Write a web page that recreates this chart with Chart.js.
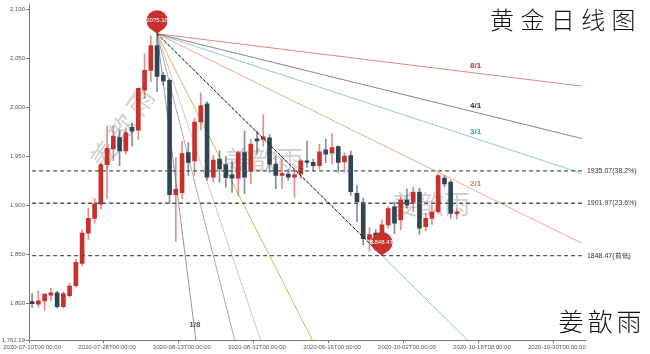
<!DOCTYPE html>
<html>
<head>
<meta charset="utf-8">
<script src="https://cdn.jsdelivr.net/npm/chart.js@4/dist/chart.umd.min.js"></script>
<style>
  body { margin: 0; background: #fff; }
  #box { width: 650px; height: 354px; }
</style>
</head>
<body>
<div id="box"><canvas id="grafico" width="650" height="354"></canvas></div>
<script>
// datas: pregões até 14/10, depois dias corridos (extensão do leque)
const datas = [
  '2020-07-10','2020-07-13','2020-07-14','2020-07-15','2020-07-16','2020-07-17','2020-07-20','2020-07-21',
  '2020-07-22','2020-07-23','2020-07-24','2020-07-27','2020-07-28','2020-07-29','2020-07-30','2020-07-31',
  '2020-08-03','2020-08-04','2020-08-05','2020-08-06','2020-08-07','2020-08-10','2020-08-11','2020-08-12',
  '2020-08-13','2020-08-14','2020-08-17','2020-08-18','2020-08-19','2020-08-20','2020-08-21','2020-08-24',
  '2020-08-25','2020-08-26','2020-08-27','2020-08-28','2020-08-31','2020-09-01','2020-09-02','2020-09-03',
  '2020-09-04','2020-09-07','2020-09-08','2020-09-09','2020-09-10','2020-09-11','2020-09-14','2020-09-15',
  '2020-09-16','2020-09-17','2020-09-18','2020-09-21','2020-09-22','2020-09-23','2020-09-24','2020-09-25',
  '2020-09-28','2020-09-29','2020-09-30','2020-10-01','2020-10-02','2020-10-05','2020-10-06','2020-10-07',
  '2020-10-08','2020-10-09','2020-10-12','2020-10-13','2020-10-14','2020-10-15','2020-10-16','2020-10-17',
  '2020-10-18','2020-10-19','2020-10-20','2020-10-21','2020-10-22','2020-10-23','2020-10-24','2020-10-25',
  '2020-10-26','2020-10-27','2020-10-28','2020-10-29','2020-10-30','2020-10-31','2020-11-01','2020-11-02',
  '2020-11-03'
];

const abertura = [1801.5,1798.8,1802.2,1808.0,1810.3,1796.2,1807.5,1817.6,1840.5,1871.4,1886.5,1901.0,1941.4,1957.5,1969.0,1955.4,
  1979.6,1976.6,2017.6,2037.8,2063.2,2032.7,2027.7,1910.7,1912.7,1953.8,1945.3,1985.0,2003.7,1928.7,1947.2,1941.5,
  1931.0,1927.5,1953.8,1934.7,1967.9,1967.2,1968.9,1942.0,1930.3,1931.9,1928.6,1931.9,1945.3,1943.7,1940.3,1956.5,
  1953.2,1960.0,1944.3,1950.7,1912.0,1902.6,1865.0,1871.4,1865.0,1879.9,1898.3,1885.0,1905.1,1903.0,1913.4,1878.1,
  1886.5,1893.3,1927.6,1923.5,1891.3];
const maximas = [1809.9,1812.6,1809.5,1815.3,1812.0,1811.5,1820.2,1844.5,1875.0,1897.0,1907.0,1943.0,1980.7,1980.7,1977.0,1979.0,
  1984.0,2019.5,2054.6,2073.0,2075.18,2036.0,2029.4,1948.7,1965.6,1963.9,1989.0,2014.8,2006.0,1950.6,1955.5,1950.0,
  1945.0,1955.5,1975.7,1967.2,1975.7,1992.4,1972.2,1950.4,1947.2,1936.9,1937.0,1947.2,1965.6,1947.0,1962.1,1967.2,
  1973.2,1960.7,1953.8,1955.5,1920.2,1907.0,1877.0,1875.0,1885.0,1898.5,1903.3,1908.4,1916.8,1918.5,1917.5,1891.6,
  1900.0,1932.0,1930.3,1925.2,1896.0];
const minimas = [1795.2,1795.8,1792.4,1801.8,1795.0,1795.0,1805.9,1816.0,1838.0,1864.5,1881.5,1896.0,1906.7,1945.4,1940.4,1952.0,
  1960.5,1967.2,2009.2,2026.0,2015.9,2022.7,1901.8,1862.9,1906.7,1930.3,1930.3,1977.0,1925.4,1923.7,1923.5,1918.5,
  1913.0,1910.0,1911.7,1921.8,1952.0,1960.4,1933.6,1916.8,1916.8,1925.2,1908.0,1927.0,1938.6,1935.0,1936.9,1943.7,
  1942.0,1933.6,1933.6,1910.0,1883.2,1859.0,1853.0,1858.0,1848.47,1876.5,1870.9,1875.0,1896.6,1893.3,1870.0,1873.3,
  1880.0,1891.6,1918.5,1886.5,1886.0];
const fechamento = [1799.2,1802.2,1809.0,1810.4,1796.2,1809.6,1817.3,1841.5,1871.4,1886.5,1901.4,1941.4,1958.1,1970.5,1955.4,1973.9,
  1975.6,2019.3,2037.8,2063.0,2031.6,2027.1,1910.7,1916.1,1952.8,1943.7,1985.0,2001.7,1928.7,1946.2,1937.1,1928.0,
  1927.5,1953.8,1928.6,1962.5,1965.6,1969.9,1942.0,1930.3,1932.6,1928.6,1931.0,1945.3,1943.7,1940.3,1954.4,1952.0,
  1958.9,1943.7,1950.3,1913.7,1903.6,1865.8,1870.0,1865.0,1879.9,1896.6,1881.5,1905.1,1900.0,1913.4,1876.5,1886.5,
  1893.0,1930.3,1921.8,1891.6,1893.3];

const yTicks = [1762.19, 1800, 1850, 1900, 1950, 2000, 2050, 2100];

// topo, fundo e níveis de retração
const idxTopo = 20, valTopo = 2075.18;
const idxFundo = 56, valFundo = 1848.47;
const niveis = [1935.07, 1901.97, 1848.47];
const rotulosNiveis = ['1935.07(38.2%)', '1901.97(23.6%)', '1848.47(前低)'];

// leque de Gann
const leque = ['8/1', '4/1', '3/1', '2/1', '1/1', '1/2', '1/3', '1/4', '1/8'];
const fatores = [1/8, 1/4, 1/3, 1/2, 1, 2, 3, 4, 8];
const coresLeque = ['rgba(205,95,95,0.75)', 'rgba(95,95,95,0.75)', 'rgba(110,185,190,0.75)', 'rgba(232,150,120,0.8)',
  'rgba(125,185,175,0.8)', 'rgba(226,165,70,0.9)', 'rgba(212,188,188,0.9)', 'rgba(160,162,172,0.9)', 'rgba(135,140,155,0.9)'];
const coresRotulo = {'8/1': '#b83232', '4/1': '#333', '3/1': '#3f93a6', '2/1': '#d0795a', '1/8': '#555'};

const VERMELHO = '#c9302c', ESCURO = '#2f4554';
const fonte = 'Liberation Sans';

const n = abertura.length;
const ultimo = datas.length - 1;
const passo = (valTopo - valFundo) / (idxFundo - idxTopo);

const corpos = datas.map((d, i) => i < n ? [abertura[i], fechamento[i]] : null);
const pavios = datas.map((d, i) => i < n ? [minimas[i], maximas[i]] : null);
const sobe = i => i < n && fechamento[i] >= abertura[i];

const datasets = [
  {
    type: 'bar', data: corpos, grouped: false, barThickness: 4, minBarLength: 1, order: 0,
    backgroundColor: ctx => sobe(ctx.dataIndex) ? VERMELHO : ESCURO
  },
  {
    type: 'bar', data: pavios, grouped: false, barThickness: 1, order: 0,
    backgroundColor: ctx => sobe(ctx.dataIndex) ? 'rgba(201,48,44,0.55)' : 'rgba(47,69,84,0.6)'
  }
];

leque.forEach((nome, k) => {
  const fim = valTopo - passo * fatores[k] * (ultimo - idxTopo);
  datasets.push({
    type: 'line', order: 1, borderColor: coresLeque[k], borderWidth: 1, pointRadius: 0,
    data: [{x: datas[idxTopo], y: valTopo}, {x: datas[ultimo], y: fim}]
  });
});

// 1/1 tracejado do topo ao fundo
datasets.push({
  type: 'line', order: -1, borderColor: '#111', borderWidth: 1, borderDash: [3, 2], pointRadius: 0,
  data: [{x: datas[idxTopo], y: valTopo}, {x: datas[idxFundo], y: valFundo}]
});

niveis.forEach(v => {
  datasets.push({
    type: 'line', order: -1, borderColor: '#555', borderWidth: 1.3, borderDash: [4, 3], pointRadius: 0,
    data: [{x: datas[0], y: v}, {x: datas[ultimo], y: v}]
  });
});

function desenhaPino(ctx, x, yPonta, texto) {
  const r = 10.5, cy = yPonta - 13;
  ctx.save();
  ctx.beginPath();
  ctx.arc(x, cy, r, Math.PI * 0.75, Math.PI * 0.25);
  ctx.lineTo(x, yPonta);
  ctx.closePath();
  ctx.fillStyle = VERMELHO;
  ctx.fill();
  ctx.fillStyle = '#fff';
  ctx.font = '6px "' + fonte + '"';
  ctx.textAlign = 'center';
  ctx.textBaseline = 'middle';
  ctx.fillText(texto, x, cy);
  ctx.restore();
}

const enfeites = {
  id: 'enfeites',
  beforeDatasetsDraw(chart) {
    const ctx = chart.ctx;
    ctx.save();
    ctx.fillStyle = 'rgba(120,120,120,0.35)';
    ctx.font = '26px "Noto Sans CJK SC"';
    ctx.textAlign = 'center';
    ctx.textBaseline = 'middle';
    // marca d'água inclinada
    ctx.save();
    ctx.translate(122, 128);
    ctx.rotate(-55 * Math.PI / 180);
    ['姜', '歆', '雨'].forEach((c, i) => ctx.fillText(c, (i - 1) * 32, 0));
    ctx.restore();
    ['姜', '歆', '雨'].forEach((c, i) => ctx.fillText(c, 238 + i * 26, 160));
    ['姜', '歆', '雨'].forEach((c, i) => ctx.fillText(c, 405 + i * 26, 204));
    ctx.restore();
  },
  afterDraw(chart) {
    const ctx = chart.ctx;
    const xs = chart.scales.x, ys = chart.scales.y;
    ctx.save();

    // rótulos dos níveis
    ctx.fillStyle = '#333';
    ctx.font = '7px "' + fonte + '"';
    ctx.textAlign = 'left';
    ctx.textBaseline = 'middle';
    niveis.forEach((v, i) => ctx.fillText(rotulosNiveis[i], xs.getPixelForValue(ultimo) + 5, ys.getPixelForValue(v)));

    // rótulos do leque
    ctx.font = 'bold 8px "' + fonte + '"';
    ctx.textAlign = 'center';
    ctx.textBaseline = 'bottom';
    leque.forEach((nome, k) => {
      if (!coresRotulo[nome]) return;
      ctx.fillStyle = coresRotulo[nome];
      if (nome === '1/8') {
        const v = 1778;
        const i = idxTopo + (valTopo - v) / (passo * fatores[k]);
        ctx.textBaseline = 'middle';
        ctx.fillText(nome, xs.getPixelForValue(i) + 1, ys.getPixelForValue(v));
        ctx.textBaseline = 'bottom';
      } else {
        const i = 71;
        const v = valTopo - passo * fatores[k] * (i - idxTopo);
        ctx.fillText(nome, xs.getPixelForValue(i), ys.getPixelForValue(v) - 3);
      }
    });

    desenhaPino(ctx, xs.getPixelForValue(idxTopo), ys.getPixelForValue(valTopo), valTopo.toFixed(2));
    desenhaPino(ctx, xs.getPixelForValue(idxFundo), ys.getPixelForValue(valFundo), valFundo.toFixed(2));

    // título e assinatura
    ctx.fillStyle = '#111';
    ctx.textAlign = 'center';
    ctx.textBaseline = 'middle';
    ctx.font = '300 24px "Noto Sans CJK SC"';
    ['黄', '金', '日', '线', '图'].forEach((c, i) => ctx.fillText(c, 502 + i * 30.4, 20));
    ctx.font = '300 25px "Noto Sans CJK SC"';
    ['姜', '歆', '雨'].forEach((c, i) => ctx.fillText(c, 571 + i * 29, 321));
    ctx.restore();
  }
};

new Chart(document.getElementById('grafico'), {
  type: 'bar',
  data: { labels: datas, datasets: datasets },
  options: {
    responsive: false,
    animation: false,
    layout: { padding: { top: 0, right: 65, left: 0, bottom: 0 } },
    plugins: { legend: { display: false }, tooltip: { enabled: false } },
    scales: {
      x: {
        type: 'category',
        offset: true,
        border: { color: '#777' },
        grid: {
          offset: true, drawOnChartArea: false, tickLength: 3,
          color: ctx => (ctx.index % 12 === 0 ? '#777' : 'rgba(0,0,0,0)')
        },
        ticks: {
          autoSkip: false, maxRotation: 0, minRotation: 0, padding: 1, color: '#555',
          font: { family: fonte, size: 6 },
          callback: (v, i) => (i % 12 === 0 ? datas[i] + 'T00:00:00' : '')
        },
        afterFit: s => { s.height = 14; }
      },
      y: {
        min: 1762.19,
        max: 2105,
        border: { color: '#777' },
        grid: { drawOnChartArea: false, tickLength: 3, color: '#777' },
        afterBuildTicks: s => { s.ticks = yTicks.map(v => ({ value: v })); },
        ticks: {
          padding: 1, color: '#555', font: { family: fonte, size: 6 },
          callback: v => v.toLocaleString('en-US', { maximumFractionDigits: 2 })
        },
        afterFit: s => { s.width = 29; }
      }
    }
  },
  plugins: [enfeites]
});
</script>
</body>
</html>
